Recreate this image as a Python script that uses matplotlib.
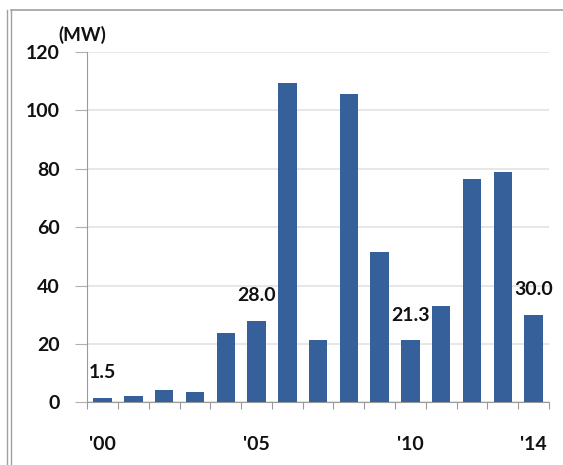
import matplotlib.pyplot as plt
from matplotlib.lines import Line2D
from matplotlib.ticker import FixedLocator, NullFormatter

plt.rcParams['font.family'] = ['Lato', 'DejaVu Sans']

# annual installed capacity, MW
years = list(range(2000, 2015))
capacity = [1.5, 2.1, 4.1, 3.4, 23.7, 28.0, 109.3, 21.3, 105.5, 51.4,
            21.3, 32.9, 76.4, 78.8, 30.0]
labeled_years = [2000, 2005, 2010, 2014]
year_labels = ["'00", "'05", "'10", "'14"]

fig = plt.figure(figsize=(5.63, 4.65), dpi=100)
ax = fig.add_axes([0.155, 0.135, 0.82, 0.753])

x = [y - 2000 for y in years]
ax.bar(x, capacity, width=0.6, color='#36609A', zorder=3)

# value labels on selected years
for yr in labeled_years:
    i = years.index(yr)
    ax.annotate(f'{capacity[i]:.1f}', (x[i], capacity[i]),
                xytext=(0, 18), textcoords='offset points',
                ha='center', va='center', fontsize=14,
                fontweight='bold', color='#111111', zorder=4)

ax.set_xlim(-0.5, len(years) - 0.5)
ax.set_ylim(0, 120)
ax.set_yticks(range(0, 121, 20))
ax.grid(axis='y', color='#e3e3e3', linewidth=1.2, zorder=0)

# category labels below, boundary ticks on the axis
ax.set_xticks([y - 2000 for y in labeled_years])
ax.set_xticklabels(year_labels)
ax.tick_params(axis='x', which='major', length=0, pad=24)
ax.xaxis.set_minor_locator(FixedLocator([i - 0.5 for i in range(len(years) + 1)]))
ax.xaxis.set_minor_formatter(NullFormatter())
ax.tick_params(axis='x', which='minor', length=5, color='#9a9a9a', width=0.8)
ax.tick_params(axis='y', length=9, color='#b0b0b0', width=0.8, pad=11)

for lbl in ax.get_xticklabels() + ax.get_yticklabels():
    lbl.set_fontsize(14)
    lbl.set_fontweight('bold')
    lbl.set_color('#111111')

for side in ['top', 'right']:
    ax.spines[side].set_visible(False)
ax.spines['left'].set_color('#9a9a9a')
ax.spines['bottom'].set_color('#9a9a9a')
ax.spines['left'].set_linewidth(0.8)
ax.spines['bottom'].set_linewidth(0.8)

ax.text(-0.063, 1.049, '(MW)', transform=ax.transAxes, ha='left', va='center',
        fontsize=13.5, fontweight='bold', color='#111111')

# outer frame lines
fig.add_artist(Line2D([0.013, 0.013], [0, 0.978], color='#a0a0a0', lw=1))
fig.add_artist(Line2D([0.02, 0.02], [0, 0.978], color='#a0a0a0', lw=1))
fig.add_artist(Line2D([0.02, 1.0], [0.978, 0.978], color='#a0a0a0', lw=1.2))

fig.savefig('out.png', dpi=100)
